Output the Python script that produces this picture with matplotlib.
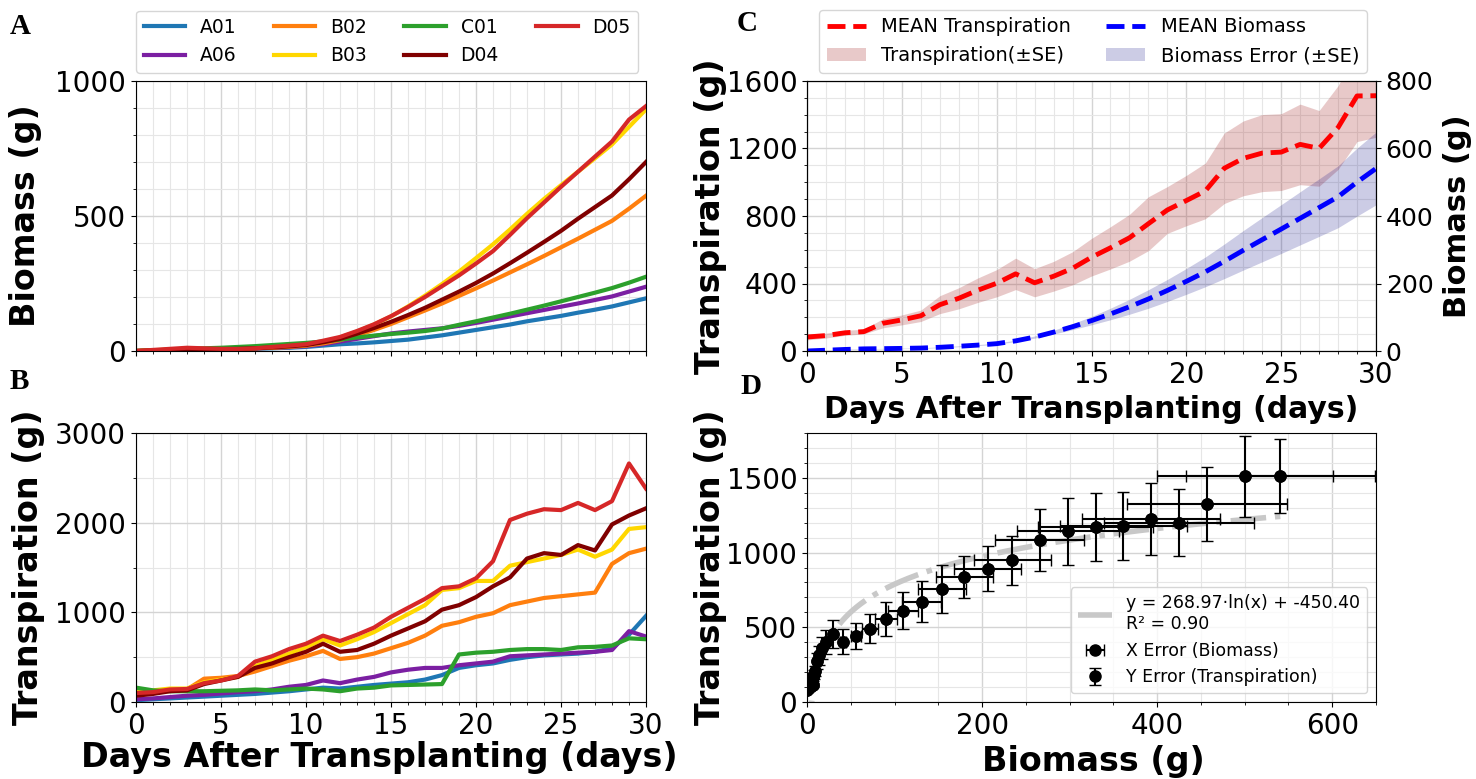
import numpy as np
import matplotlib
matplotlib.use("Agg")
from matplotlib import pyplot as plt
from matplotlib.ticker import MultipleLocator

plt.rcParams['font.family'] = ['DejaVu Sans']

days = list(range(31))
plants = ["A01", "A06", "B02", "B03", "C01", "D04", "D05"]
colors = ["#1f77b4", "#7b1fa2", "#ff7f0e", "#ffd700", "#2ca02c", "#800000", "#d62728"]

# biomass per plant (g)
bio_A01 = [0, 1, 2, 3, 4, 5, 6, 8, 10, 12, 15, 20, 25, 28, 32, 37, 42, 50, 58, 68, 78, 88, 98, 110, 120, 130, 142, 153, 165, 180, 195]
bio_A06 = [0, 2, 4, 5, 6, 7, 8, 10, 12, 14, 18, 25, 35, 45, 55, 65, 72, 78, 84, 93, 104, 116, 128, 140, 152, 164, 176, 189, 202, 220, 238]
bio_B02 = [0, 2, 4, 5, 6, 7, 8, 10, 12, 15, 20, 28, 40, 58, 78, 100, 125, 150, 176, 204, 232, 261, 291, 321, 352, 384, 416, 449, 482, 527, 575]
bio_B03 = [0, 3, 5, 6, 7, 8, 9, 11, 14, 18, 22, 32, 50, 72, 98, 128, 165, 205, 248, 294, 344, 395, 450, 508, 563, 614, 664, 714, 765, 830, 895]
bio_C01 = [0, 2, 5, 8, 10, 12, 15, 18, 22, 26, 30, 35, 42, 50, 57, 63, 68, 74, 83, 97, 110, 124, 138, 153, 168, 184, 200, 216, 233, 253, 275]
bio_D04 = [0, 2, 4, 5, 6, 7, 8, 10, 13, 17, 22, 32, 45, 64, 85, 108, 133, 160, 190, 220, 252, 287, 325, 364, 404, 445, 490, 533, 576, 636, 700]
bio_D05 = [0, 4, 8, 12, 10, 8, 7, 10, 15, 20, 25, 38, 52, 74, 99, 129, 163, 200, 240, 280, 324, 370, 430, 492, 550, 608, 664, 720, 776, 857, 907]

# transpiration per plant (g)
tr_A01 = [20, 30, 40, 50, 60, 70, 80, 90, 105, 120, 140, 160, 150, 170, 190, 205, 220, 250, 300, 380, 410, 430, 470, 500, 520, 530, 540, 560, 600, 750, 960]
tr_A06 = [30, 40, 55, 70, 80, 95, 110, 120, 140, 170, 190, 240, 210, 250, 280, 330, 360, 380, 380, 410, 430, 450, 510, 520, 530, 540, 550, 560, 580, 790, 730]
tr_B02 = [80, 110, 130, 140, 260, 270, 290, 340, 400, 460, 510, 570, 480, 500, 540, 600, 660, 740, 850, 890, 950, 990, 1080, 1120, 1160, 1180, 1200, 1220, 1540, 1660, 1710]
tr_B03 = [120, 130, 150, 150, 220, 250, 280, 400, 470, 540, 610, 700, 630, 700, 780, 880, 980, 1080, 1250, 1270, 1350, 1350, 1520, 1560, 1600, 1640, 1700, 1620, 1700, 1930, 1950]
tr_C01 = [160, 130, 120, 120, 120, 125, 130, 140, 130, 140, 150, 140, 120, 150, 160, 185, 190, 195, 200, 530, 550, 560, 580, 590, 590, 580, 610, 615, 630, 710, 700]
tr_D04 = [70, 90, 120, 130, 200, 240, 280, 380, 430, 500, 560, 650, 560, 580, 650, 740, 820, 900, 1030, 1080, 1170, 1290, 1390, 1600, 1660, 1640, 1750, 1690, 1980, 2080, 2160]
tr_D05 = [100, 110, 140, 145, 210, 240, 290, 450, 510, 590, 650, 740, 680, 750, 830, 950, 1050, 1150, 1270, 1290, 1380, 1570, 2030, 2100, 2150, 2140, 2220, 2140, 2240, 2660, 2380]

# log fit reported on panel D
fit_a = 268.97
fit_b = -450.40
fit_r2 = 0.90

biomass = np.array([bio_A01, bio_A06, bio_B02, bio_B03, bio_C01, bio_D04, bio_D05], dtype=float)
transp = np.array([tr_A01, tr_A06, tr_B02, tr_B03, tr_C01, tr_D04, tr_D05], dtype=float)
n = biomass.shape[0]
bio_mean = biomass.mean(axis=0)
bio_se = biomass.std(axis=0) / np.sqrt(n)
tr_mean = transp.mean(axis=0)
tr_se = transp.std(axis=0) / np.sqrt(n)

W, H = 1476, 779
fig = plt.figure(figsize=(W / 100, H / 100), dpi=100)


def box(l, t, r, b):
    return [l / W, 1 - b / H, (r - l) / W, (b - t) / H]


def style(ax):
    ax.set_axisbelow(True)
    ax.grid(which='major', color='#d4d4d4', lw=1.0)
    ax.grid(which='minor', color='#e6e6e6', lw=0.8)
    ax.tick_params(labelsize=20)


axA = fig.add_axes(box(136, 81, 646, 351))
axB = fig.add_axes(box(136, 433, 646, 702))
axC = fig.add_axes(box(807, 81, 1376, 351))
axD = fig.add_axes(box(807, 433, 1376, 702))

# panel A
for name, col, vals in zip(plants, colors, biomass):
    axA.plot(days, vals, color=col, lw=3, label=name)
axA.set_xlim(0, 30)
axA.set_ylim(0, 1000)
axA.xaxis.set_major_locator(MultipleLocator(5))
axA.xaxis.set_minor_locator(MultipleLocator(1))
axA.yaxis.set_major_locator(MultipleLocator(500))
axA.yaxis.set_minor_locator(MultipleLocator(100))
style(axA)
axA.tick_params(labelbottom=False)
axA.set_ylabel("Biomass (g)", fontsize=24, fontweight='bold')
axA.yaxis.set_label_coords(-0.184, 0.5)
axA.legend(loc='lower left', bbox_to_anchor=(0.0, 1.03, 0.985, 0.2), mode='expand',
           ncol=4, fontsize=13.5, handlelength=2.2, borderaxespad=0)

# panel B
for name, col, vals in zip(plants, colors, transp):
    axB.plot(days, vals, color=col, lw=3, label=name)
axB.set_xlim(0, 30)
axB.set_ylim(0, 3000)
axB.xaxis.set_major_locator(MultipleLocator(5))
axB.xaxis.set_minor_locator(MultipleLocator(1))
axB.yaxis.set_major_locator(MultipleLocator(1000))
axB.yaxis.set_minor_locator(MultipleLocator(500))
style(axB)
axB.set_ylabel("Transpiration (g)", fontsize=24, fontweight='bold')
axB.yaxis.set_label_coords(-0.178, 0.5)
axB.set_xlabel("Days After Transplanting (days)", fontsize=24, fontweight='bold')
axB.xaxis.set_label_coords(0.477, -0.145)

# panel C
axC.fill_between(days, tr_mean - tr_se, tr_mean + tr_se, color='brown', alpha=0.25, lw=0,
                 label='Transpiration(±SE)')
axC.plot(days, tr_mean, 'r--', lw=3.5, label='MEAN Transpiration')
axC.set_xlim(0, 30)
axC.set_ylim(0, 1600)
axC.xaxis.set_major_locator(MultipleLocator(5))
axC.xaxis.set_minor_locator(MultipleLocator(1))
axC.yaxis.set_major_locator(MultipleLocator(400))
axC.yaxis.set_minor_locator(MultipleLocator(100))
style(axC)
axC.set_ylabel("Transpiration (g)", fontsize=24, fontweight='bold')
axC.yaxis.set_label_coords(-0.141, 0.5)
axC.set_xlabel("Days After Transplanting (days)", fontsize=21.5, fontweight='bold')
axC.xaxis.set_label_coords(0.5, -0.163)

axC2 = axC.twinx()
axC2.fill_between(days, bio_mean - bio_se, bio_mean + bio_se, color='navy', alpha=0.2, lw=0,
                  label='Biomass Error (±SE)')
axC2.plot(days, bio_mean, 'b--', lw=3.5, label='MEAN Biomass')
axC2.set_ylim(0, 800)
axC2.yaxis.set_major_locator(MultipleLocator(200))
axC2.tick_params(labelsize=18)
axC2.set_ylabel("Biomass (g)", fontsize=22, fontweight='bold')
axC2.yaxis.set_label_coords(1.118, 0.5)

h1, l1 = axC.get_legend_handles_labels()
h2, l2 = axC2.get_legend_handles_labels()
handles = [h1[1], h1[0], h2[1], h2[0]]
labels = [l1[1], l1[0], l2[1], l2[0]]
axC2.legend(handles, labels, loc='lower left', bbox_to_anchor=(0.021, 1.03, 0.963, 0.2),
            mode='expand', ncol=2, fontsize=14, borderaxespad=0)

# panel D
x_fit = np.linspace(bio_mean[bio_mean > 0].min(), bio_mean.max(), 300)
axD.plot(x_fit, fit_a * np.log(x_fit) + fit_b, color='#c8c8c8', ls='-.', lw=4,
         label=f"y = {fit_a:.2f}·ln(x) + {fit_b:.2f}\nR² = {fit_r2:.2f}")
axD.errorbar(bio_mean, tr_mean, xerr=bio_se, fmt='o', color='black', ms=8, capsize=4,
             elinewidth=1.5, label='X Error (Biomass)')
axD.errorbar(bio_mean, tr_mean, yerr=tr_se, fmt='o', color='black', ms=8, capsize=4,
             elinewidth=1.5, label='Y Error (Transpiration)')
axD.set_xlim(0, 650)
axD.set_ylim(0, 1800)
axD.xaxis.set_major_locator(MultipleLocator(200))
axD.xaxis.set_minor_locator(MultipleLocator(50))
axD.yaxis.set_major_locator(MultipleLocator(500))
axD.yaxis.set_minor_locator(MultipleLocator(100))
style(axD)
axD.set_ylabel("Transpiration (g)", fontsize=24, fontweight='bold')
axD.yaxis.set_label_coords(-0.141, 0.5)
axD.set_xlabel("Biomass (g)", fontsize=24, fontweight='bold')
axD.xaxis.set_label_coords(0.503, -0.16)
axD.legend(loc='lower right', fontsize=12.5)

for letter, x, y in [("A", 10, 13), ("B", 10, 368), ("C", 737, 10), ("D", 740, 373)]:
    fig.text(x / W, 1 - y / H, letter, fontfamily='Liberation Serif', fontweight='bold',
             fontsize=21, va='top', ha='left')

fig.savefig("out.png", dpi=100)
